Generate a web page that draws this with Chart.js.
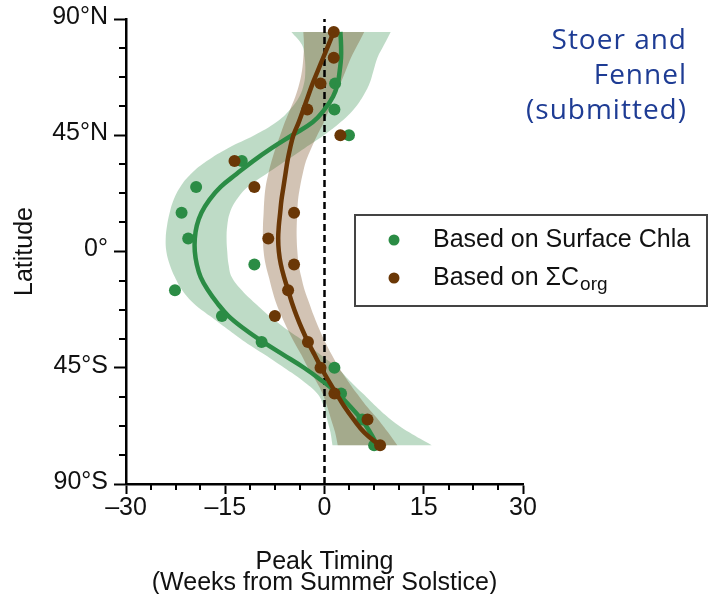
<!DOCTYPE html>
<html>
<head>
<meta charset="utf-8">
<script src="https://cdn.jsdelivr.net/npm/chart.js@4.4.1/dist/chart.umd.min.js"></script>
<style>
  html, body { margin: 0; padding: 0; background: #ffffff; }
  #wrap { width: 710px; height: 594px; }
</style>
</head>
<body>
<div id="wrap"><canvas id="c" width="710" height="594"></canvas></div>
<script>
// Latitude bins of the observations (10-degree bands)
const sampleLat = [85, 75, 65, 55, 45, 35, 25, 15, 5, -5, -15, -25, -35, -45, -55, -65, -75];
// Peak timing (weeks from summer solstice) per bin
const chlaPeak = [null, null, 1.6, 1.5, 3.7, -12.5, -19.4, -21.6, -20.6, -10.6, -22.6, -15.5, -9.5, 1.5, 2.5, 5.7, 7.5];
const corgPeak = [1.4, 1.4, -0.6, -2.6, 2.4, -13.6, -10.6, -4.6, -8.5, -4.6, -5.5, -7.5, -2.5, -0.6, 1.5, 6.5, 8.4];

// Latitudes at which the smooth fits and their confidence bands are given
const fitLat = [85, 80, 75, 70, 65, 60, 55, 50, 45, 40, 35, 30, 25, 20, 15, 10, 5, 0,
                -5, -10, -15, -20, -25, -30, -35, -40, -45, -50, -55, -60, -65, -70, -75];

// Surface Chla fit and band
const chlaFit  = [2.4, 2.5, 2.5, 2.3, 2.0, 1.3, 0.0, -1.8, -4.9, -8.0, -10.8, -13.3, -15.7, -17.4, -18.6, -19.3, -19.6, -19.6,
                  -19.3, -18.7, -17.6, -16.2, -14.5, -12.1, -9.3, -6.2, -3.1, -0.4, 2.0, 3.9, 5.6, 6.9, 8.0];
const chlaLow  = [-5.0, -3.4, -3.0, -2.9, -3.1, -3.8, -5.2, -7.3, -10.6, -14.6, -17.8, -20.2, -21.8, -22.8, -23.4, -23.8, -24.0, -23.9,
                  -23.4, -22.6, -21.5, -19.8, -17.3, -14.7, -12.0, -9.0, -6.1, -3.3, -1.1, -0.1, 0.4, 0.9, 1.2];
const chlaHigh = [10.0, 9.0, 8.0, 7.4, 6.8, 5.8, 4.4, 2.4, -0.1, -3.0, -5.9, -8.8, -11.6, -13.3, -14.3, -14.7, -14.8, -14.7,
                  -14.5, -14.0, -12.5, -10.5, -8.3, -5.8, -3.0, -0.6, 1.9, 3.8, 5.8, 7.8, 10.0, 12.8, 16.2];

// Sigma C_org fit and band
const corgFit  = [1.4, 0.6, -0.2, -1.0, -1.8, -2.5, -3.2, -3.9, -4.7, -5.2, -5.6, -5.9, -6.2, -6.5, -6.7, -6.9, -7.0, -6.9,
                  -6.6, -6.1, -5.5, -4.9, -4.2, -3.4, -2.5, -1.5, -0.5, 0.6, 1.8, 3.0, 4.4, 6.0, 8.3];
const corgLow  = [-3.2, -3.1, -3.2, -3.4, -3.8, -4.4, -5.2, -6.0, -6.7, -7.4, -8.0, -8.5, -8.9, -9.1, -9.2, -9.3, -9.3, -9.2,
                  -8.9, -8.4, -7.9, -7.3, -6.5, -5.6, -4.6, -3.5, -2.5, -1.3, -0.3, 0.4, 1.0, 1.6, 2.0];
const corgHigh = [6.0, 5.0, 4.0, 3.2, 2.4, 1.5, 0.7, -0.1, -1.1, -2.0, -2.8, -3.3, -3.7, -4.0, -4.1, -4.2, -4.2, -4.1,
                  -3.9, -3.5, -3.0, -2.3, -1.6, -0.8, 0.1, 1.1, 2.2, 3.5, 4.9, 6.4, 8.1, 9.6, 11.0];

// Axis ticks
const xMajor = [-30, -15, 0, 15, 30];
const yMajor = [-90, -45, 0, 45, 90];
const xMinorStep = 3.75;
const yMinorStep = 11.25;

const GREEN = '#2b8c45';
const BROWN = '#6a3706';
const FONT = "'Liberation Sans', Arial, Helvetica, sans-serif";

function pts(xs, ys) {
  const out = [];
  xs.forEach((x, i) => { if (x !== null) out.push({ x: x, y: ys[i] }); });
  return out;
}
// Closed outline of a band: low edge north->south, high edge south->north.
// The southern corners are repeated so the cap stays a straight edge.
function bandShape(low, high) {
  const left = pts(low, fitLat);
  const right = pts(high, fitLat).reverse();
  const l = left[left.length - 1];
  const r = right[0];
  return left.concat([{ x: l.x, y: l.y }], right.slice(0, 1), [{ x: r.x, y: r.y }], right.slice(1));
}

const minorTicks = {
  id: 'minorTicks',
  afterDraw(chart) {
    const { ctx, scales: { x, y }, chartArea } = chart;
    ctx.save();
    ctx.strokeStyle = '#000';
    ctx.lineWidth = 2;
    ctx.beginPath();
    for (let v = x.min; v <= x.max + 1e-9; v += xMinorStep) {
      if (xMajor.some(m => Math.abs(m - v) < 1e-6)) continue;
      const px = Math.round(x.getPixelForValue(v));
      ctx.moveTo(px, chartArea.bottom);
      ctx.lineTo(px, chartArea.bottom + 6);
    }
    for (let v = y.min; v <= y.max + 1e-9; v += yMinorStep) {
      if (yMajor.some(m => Math.abs(m - v) < 1e-6)) continue;
      const py = Math.round(y.getPixelForValue(v));
      ctx.moveTo(chartArea.left, py);
      ctx.lineTo(chartArea.left - 7, py);
    }
    ctx.stroke();
    ctx.restore();
  }
};

const annotations = {
  id: 'annotations',
  afterDraw(chart) {
    const ctx = chart.ctx;
    ctx.save();
    // source note
    ctx.fillStyle = '#1e3c94';
    ctx.font = "28px 'Open Sans', 'Noto Sans', sans-serif";
    ctx.letterSpacing = '1px';
    ctx.textAlign = 'right';
    ctx.textBaseline = 'alphabetic';
    ['Stoer and', 'Fennel', '(submitted)'].forEach((t, i) => ctx.fillText(t, 687, 49 + i * 35.2));
    ctx.letterSpacing = '0px';

    // legend
    ctx.fillStyle = '#ffffff';
    ctx.fillRect(355, 215, 352, 91);
    ctx.strokeStyle = '#444444';
    ctx.lineWidth = 2;
    ctx.strokeRect(355, 215, 352, 91);
    ctx.fillStyle = GREEN;
    ctx.beginPath(); ctx.arc(394, 240, 5.5, 0, Math.PI * 2); ctx.fill();
    ctx.fillStyle = BROWN;
    ctx.beginPath(); ctx.arc(394, 278, 5.5, 0, Math.PI * 2); ctx.fill();
    ctx.fillStyle = '#111111';
    ctx.textAlign = 'left';
    ctx.font = '25px ' + FONT;
    ctx.fillText('Based on Surface Chla', 433, 246.5);
    const main = 'Based on \u03A3C';
    ctx.fillText(main, 433, 285);
    const w = ctx.measureText(main).width;
    ctx.font = '19px ' + FONT;
    ctx.fillText('org', 433 + w + 1, 290);
    ctx.restore();
  }
};

const lineDefaults = { showLine: true, pointRadius: 0, pointHoverRadius: 0, tension: 0.4, fill: false };

new Chart(document.getElementById('c'), {
  type: 'scatter',
  data: {
    datasets: [
      Object.assign({}, lineDefaults, {
        label: 'corg fit', data: pts(corgFit, fitLat), borderColor: BROWN, borderWidth: 4.5, order: 0
      }),
      {
        label: 'Based on \u03A3Corg', data: pts(corgPeak, sampleLat), backgroundColor: BROWN,
        borderWidth: 0, pointRadius: 6, order: 1
      },
      Object.assign({}, lineDefaults, {
        label: 'chla fit', data: pts(chlaFit, fitLat), borderColor: GREEN, borderWidth: 4.5, order: 2
      }),
      {
        label: 'Based on Surface Chla', data: pts(chlaPeak, sampleLat), backgroundColor: GREEN,
        borderWidth: 0, pointRadius: 6, order: 3
      },
      Object.assign({}, lineDefaults, {
        label: 'solstice', data: [{ x: 0, y: -90 }, { x: 0, y: 90 }], borderColor: '#000',
        borderWidth: 2.5, borderDash: [7, 4], tension: 0, order: 4
      }),
      Object.assign({}, lineDefaults, {
        label: 'corg band', data: bandShape(corgLow, corgHigh), borderWidth: 0, borderColor: 'rgba(0,0,0,0)',
        backgroundColor: 'rgba(107,56,6,0.30)', fill: 'shape', order: 5
      }),
      Object.assign({}, lineDefaults, {
        label: 'chla band', data: bandShape(chlaLow, chlaHigh), borderWidth: 0, borderColor: 'rgba(0,0,0,0)',
        backgroundColor: 'rgba(46,140,70,0.31)', fill: 'shape', order: 6
      })
    ]
  },
  options: {
    responsive: false,
    animation: false,
    devicePixelRatio: 1,
    layout: { padding: { left: 0, top: 19, right: 187, bottom: 0 } },
    plugins: { legend: { display: false }, tooltip: { enabled: false }, title: { display: false } },
    scales: {
      x: {
        type: 'linear', min: -30, max: 30,
        afterFit(s) { s.height = 110; },
        afterBuildTicks(s) { s.ticks = xMajor.map(v => ({ value: v })); },
        ticks: {
          color: '#111', font: { family: FONT, size: 25, lineHeight: 1 }, padding: 2, maxRotation: 0,
          callback: v => (v < 0 ? '\u2013' + Math.abs(v) : String(v))
        },
        grid: { drawOnChartArea: false, drawTicks: true, tickLength: 10, tickWidth: 2, tickColor: '#000' },
        border: { display: true, color: '#000', width: 2.5 },
        title: {
          display: true, text: ['Peak Timing', '(Weeks from Summer Solstice)'], color: '#111',
          font: { family: FONT, size: 25, lineHeight: 0.84 }, padding: { top: 0, bottom: 0 }
        }
      },
      y: {
        type: 'linear', min: -90, max: 90,
        afterFit(s) { s.width = 126; },
        afterBuildTicks(s) { s.ticks = yMajor.map(v => ({ value: v })); },
        ticks: {
          color: '#111', font: { family: FONT, size: 25, lineHeight: 1 }, padding: 6, labelOffset: -2,
          callback: v => (v === 0 ? '0\u00B0' : (v > 0 ? v + '\u00B0N' : Math.abs(v) + '\u00B0S'))
        },
        grid: { drawOnChartArea: false, drawTicks: true, tickLength: 12, tickWidth: 2, tickColor: '#000' },
        border: { display: true, color: '#000', width: 2.5 },
        title: {
          display: true, text: 'Latitude', color: '#111',
          font: { family: FONT, size: 25, lineHeight: 1.2 }, padding: { top: 10, bottom: 0 }
        }
      }
    }
  },
  plugins: [minorTicks, annotations]
});
</script>
</body>
</html>
